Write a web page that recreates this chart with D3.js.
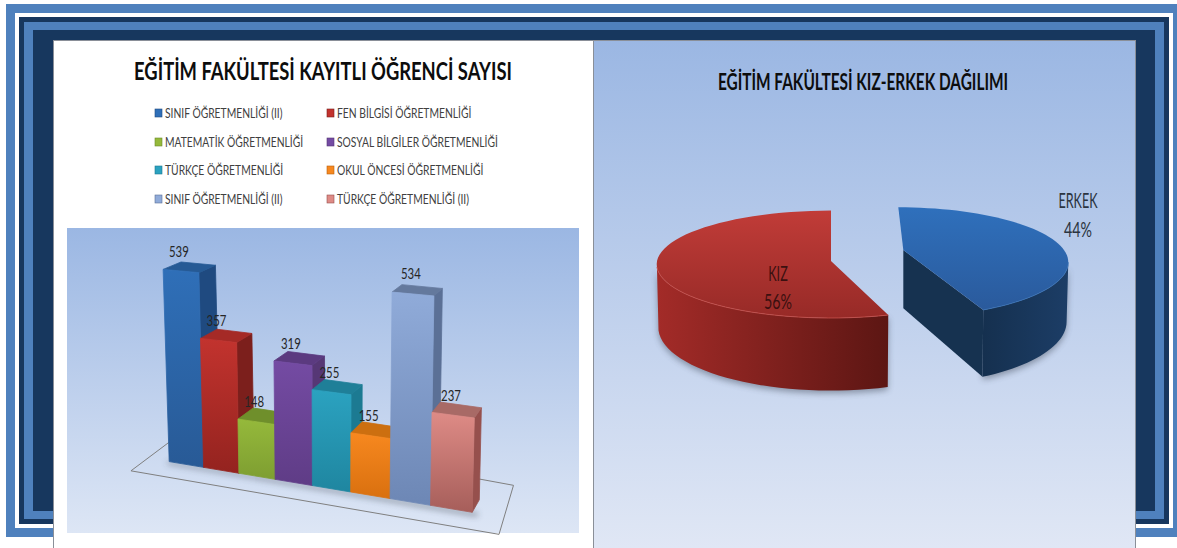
<!DOCTYPE html>
<html>
<head>
<meta charset="utf-8">
<script src="https://cdn.jsdelivr.net/npm/d3@7"></script>
<style>
  html, body { margin: 0; padding: 0; background: #fff; overflow: hidden; }
  text { font-family: Lato, "Open Sans", sans-serif; }
</style>
</head>
<body>
<div id="chart"></div>
<script>
/*********** data ***********/
var categories = ["SINIF ÖĞRETMENLİĞİ (II)", "FEN BİLGİSİ ÖĞRETMENLİĞİ", "MATEMATİK ÖĞRETMENLİĞİ",
  "SOSYAL BİLGİLER ÖĞRETMENLİĞİ", "TÜRKÇE ÖĞRETMENLİĞİ", "OKUL ÖNCESİ ÖĞRETMENLİĞİ",
  "SINIF ÖĞRETMENLİĞİ (II)", "TÜRKÇE ÖĞRETMENLİĞİ (II)"];
var students = [539, 357, 148, 319, 255, 155, 534, 237];
var genders = ["ERKEK", "KIZ"];
var genderShare = [44, 56];

// front top, front bottom, side and top face
var barColors = [
  ["#2f6fb8", "#285a96", "#1f4a80", "#265a95"],
  ["#c2332e", "#94231f", "#7c1f1c", "#a52a26"],
  ["#95b93b", "#7e9e31", "#6c8a2a", "#6f8f2b"],
  ["#744ba3", "#5f3c86", "#563775", "#5b3a80"],
  ["#2ba2c0", "#1f86a0", "#1c7a92", "#1f7f98"],
  ["#f7881f", "#d9700f", "#b9620f", "#cc6f10"],
  ["#90abd9", "#6d87b5", "#5b7096", "#64799d"],
  ["#de8b86", "#a65e5a", "#96504d", "#a86a66"]
];

var svg = d3.select("#chart").append("svg").attr("width", 1177).attr("height", 548)
  .style("display", "block");
var defs = svg.append("defs");

function vGrad(id, c0, c1, x2, y2) {
  var g = defs.append("linearGradient").attr("id", id)
    .attr("x1", 0).attr("y1", 0).attr("x2", x2 || 0).attr("y2", y2 === undefined ? 1 : y2);
  g.append("stop").attr("offset", 0).attr("stop-color", c0);
  g.append("stop").attr("offset", 1).attr("stop-color", c1);
}
vGrad("panelGrad", "#9bb7e3", "#e0e7f5");
vGrad("plotGrad", "#9bb7e3", "#dde6f5");
defs.append("filter").attr("id", "blur4").attr("x", "-20%").attr("y", "-20%").attr("width", "140%").attr("height", "140%")
  .append("feGaussianBlur").attr("stdDeviation", 3);

// squeeze text to the narrow look of the original font
function squeeze(sel, f) {
  sel.each(function() {
    this.setAttribute("textLength", this.getComputedTextLength() * f);
    this.setAttribute("lengthAdjust", "spacingAndGlyphs");
  });
  return sel;
}

/*********** frame ***********/
var frame = [[6, 4, 1177, 537, "#4f81bd"], [15, 13, 1173, 528, "#ffffff"], [19, 17, 1169, 524, "#17375e"],
  [24, 22, 1164, 519, "#4f81bd"], [33, 30, 1155, 511, "#17375e"]];
svg.selectAll("rect.frame").data(frame).enter().append("rect").attr("class", "frame")
  .attr("x", function(d) { return d[0]; }).attr("y", function(d) { return d[1]; })
  .attr("width", function(d) { return d[2] - d[0]; }).attr("height", function(d) { return d[3] - d[1]; })
  .attr("fill", function(d) { return d[4]; });

svg.append("rect").attr("x", 53).attr("y", 40).attr("width", 1083).attr("height", 508).attr("fill", "#8a8f98");
svg.append("rect").attr("x", 54).attr("y", 41).attr("width", 539).attr("height", 507).attr("fill", "#fff");
svg.append("rect").attr("x", 594).attr("y", 41).attr("width", 541).attr("height", 507).attr("fill", "url(#panelGrad)");
svg.append("rect").attr("x", 67).attr("y", 228).attr("width", 512).attr("height", 305).attr("fill", "url(#plotGrad)");

/*********** left chart titles and legend ***********/
squeeze(svg.append("text").attr("x", 323).attr("y", 80).attr("text-anchor", "middle")
  .attr("font-size", 25).attr("font-weight", 700).attr("fill", "#0d0d0d")
  .text("EĞİTİM FAKÜLTESİ KAYITLI ÖĞRENCİ SAYISI"), 0.735);

var legend = svg.selectAll("g.legend").data(categories).enter().append("g").attr("class", "legend")
  .attr("transform", function(d, i) {
    return "translate(" + (i % 2 ? 327 : 155) + "," + [113, 142, 170, 199][Math.floor(i / 2)] + ")";
  });
legend.append("rect").attr("x", 0).attr("y", -4).attr("width", 7).attr("height", 8)
  .attr("fill", function(d, i) { return barColors[i][0]; })
  .attr("stroke", function(d, i) { return barColors[i][2]; }).attr("stroke-width", 0.6);
squeeze(legend.append("text").attr("x", 10).attr("y", 5).attr("font-size", 14).attr("fill", "#404040")
  .text(function(d) { return d; }), 0.735);

/*********** 3D bars ***********/
var persK = 0.01296;
function pers(u) { return u / (1 - persK * u); }

var band = d3.scaleBand().domain(d3.range(categories.length)).range([0, 8]);
var baseX = d3.scaleLinear().domain([0, pers(8)]).range([169.2, 472.2]);
var baseY = d3.scaleLinear().domain([0, pers(8)]).range([461.6, 512.3]);
var heightScale = d3.scaleLinear().domain([0, 539]).range([0, 192.2]);
var leanScale = d3.scaleLinear().domain([0, 539]).range([0, 1.352]);

// u = place along the floor, v = value, d = depth (0 front, 1 back)
function proj(u, v, d) {
  var p = pers(u);
  var x = baseX(p) + (u - 4.5) * leanScale(v) + (53 - 4 * u) * 0.338 * d;
  var y = baseY(p) - heightScale(v) / (1 - persK * u) - (37 - 0.028 * v) * 0.338 * d;
  return [x, y];
}
var poly = d3.line().curve(d3.curveLinearClosed);

// floor outline
svg.append("path")
  .attr("d", poly([proj(-0.58, 0, -1), proj(8.81, 0, -1.3), proj(8.6, 0, 2.5), proj(-0.77, 0, 2.5)]))
  .attr("fill", "none").attr("stroke", "#7f7f7f").attr("stroke-width", 1);

// shadow along the foot of the bars
svg.append("path")
  .attr("d", poly([proj(0, 0, 0), proj(8.15, 0, 0), proj(8.15, 0, -0.25), proj(0, 0, -0.18)]))
  .attr("fill", "#3a3f4a").attr("opacity", 0.55).attr("filter", "url(#blur4)");

var bars = svg.selectAll("g.bar").data(students).enter().append("g").attr("class", "bar");
bars.each(function(v, i) {
  var g = d3.select(this), u0 = band(i), u1 = u0 + band.bandwidth(), c = barColors[i];
  vGrad("front" + i, c[0], c[1]);
  function face(pts, fill) {
    g.append("path").attr("d", poly(pts)).attr("fill", fill)
      .attr("stroke", fill).attr("stroke-width", 0.8).attr("stroke-linejoin", "round");
  }
  face([proj(u1, v, 0), proj(u1, v, 1), proj(u1, 0, 1), proj(u1, 0, 0)], c[2]);
  face([proj(u0, v, 0), proj(u1, v, 0), proj(u1, v, 1), proj(u0, v, 1)], c[3]);
  face([proj(u0, v, 0), proj(u1, v, 0), proj(u1, 0, 0), proj(u0, 0, 0)], "url(#front" + i + ")");
});

squeeze(svg.selectAll("text.val").data(students).enter().append("text").attr("class", "val")
  .attr("text-anchor", "middle").attr("font-size", 15).attr("fill", "#262626")
  .attr("x", function(d, i) { return proj(band(i) + band.bandwidth() / 2, d, 0)[0] - 2; })
  .attr("y", function(d, i) { return proj(band(i) + band.bandwidth() / 2, d, 0)[1] - 14.5; })
  .text(function(d) { return d; }), 0.76);

/*********** 3D pie ***********/
squeeze(svg.append("text").attr("x", 863).attr("y", 90).attr("text-anchor", "middle")
  .attr("font-size", 22).attr("font-weight", 700).attr("fill", "#0d0d0d")
  .text("EĞİTİM FAKÜLTESİ KIZ-ERKEK DAĞILIMI"), 0.7);

var slices = d3.pie().sort(null).startAngle(0).endAngle(2 * Math.PI)(genderShare);

// how each slice sits on the page; pivot/k correct the perspective of the angle
var views = [
  { ax: 903.3, ay: 250, top: [898.3, 262.3, 170, 55], low: [898.3, 321.7, 168.3, 63.7], pivot: 0, k: 0.947,
    topA: "#2f70bc", topB: "#2a5a9c", wallA: "#15304f", wallB: "#1c3d66", cut: "#163250" },
  { ax: 831, ay: 261, top: [831, 264.3, 174.3, 53.7], low: [831, 327.3, 172.7, 63.3], pivot: 2 * Math.PI, k: 0.988,
    topA: "#c13c38", topB: "#972a27", wallA: "#a32b28", wallB: "#5c1613" }
];
function onEllipse(e, a) { return [e[0] + e[2] * Math.sin(a), e[1] - e[3] * Math.cos(a)]; }
var lineGen = d3.line();

slices.forEach(function(s, i) {
  var view = views[i];
  var a0 = view.pivot + (s.startAngle - view.pivot) * view.k;
  var a1 = view.pivot + (s.endAngle - view.pivot) * view.k;
  var angles = d3.range(0, 61).map(function(j) { return a0 + (a1 - a0) * j / 60; });
  var wallAngles = angles.filter(function(a) { return a >= Math.PI / 2 && a <= 3 * Math.PI / 2; });
  var g = svg.append("g");

  var wallTop = wallAngles.map(function(a) { return onEllipse(view.top, a); });
  var wallLow = wallAngles.map(function(a) { return onEllipse(view.low, a); });
  var wall = wallTop.concat(wallLow.slice().reverse());

  vGrad("wall" + i, view.wallA, view.wallB, 1, 0);
  vGrad("top" + i, view.topA, view.topB);

  // soft shadow under the slice
  g.append("path").attr("d", poly(wall.map(function(p) { return [p[0], p[1] + 3]; })))
    .attr("fill", "#39404f").attr("opacity", 0.45).attr("filter", "url(#blur4)");

  // blue slice shows its cut face
  if (i === 0) {
    var endTop = onEllipse(view.top, a1), endLow = onEllipse(view.low, a1);
    g.append("path").attr("d", poly([[view.ax, view.ay], endTop, endLow, [view.ax, view.ay + 58.3]]))
      .attr("fill", view.cut);
  }
  g.append("path").attr("d", poly(wall)).attr("fill", "url(#wall" + i + ")");

  var topPts = [[view.ax, view.ay]].concat(angles.map(function(a) { return onEllipse(view.top, a); }));
  g.append("path").attr("d", poly(topPts)).attr("fill", "url(#top" + i + ")");
  g.append("path").attr("d", lineGen(wallTop)).attr("fill", "none")
    .attr("stroke", i ? "#c9524d" : "#3a74b8").attr("stroke-width", 0.8);
});

// pie labels
var pieLabels = [[1078, 208, 237], [778, 281, 309]];
genders.forEach(function(name, i) {
  var tx = pieLabels[i][0];
  squeeze(svg.append("text").attr("x", tx).attr("y", pieLabels[i][1]).attr("text-anchor", "middle")
    .attr("font-size", 21).attr("fill", i ? "#3b1010" : "#2b3440").text(name), 0.6);
  squeeze(svg.append("text").attr("x", tx).attr("y", pieLabels[i][2]).attr("text-anchor", "middle")
    .attr("font-size", 21).attr("fill", i ? "#3b1010" : "#2b3440").text(genderShare[i] + "%"), 0.68);
});
</script>
</body>
</html>
